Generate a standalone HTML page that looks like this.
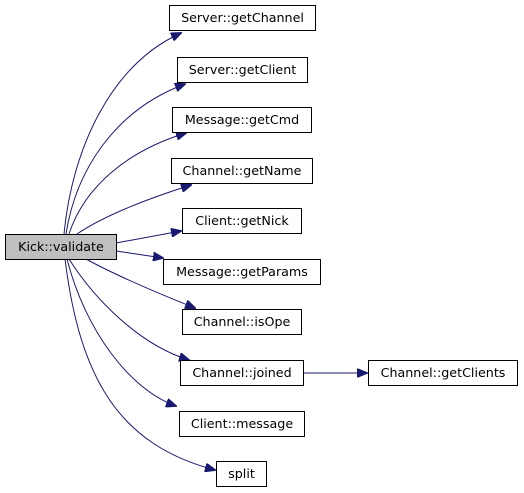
<!DOCTYPE html>
<html><head><style>
body{margin:0;background:#fff}
svg{display:block}
text{font-family:"DejaVu Sans","Liberation Sans",sans-serif;font-size:12.7px;fill:#000}
</style></head><body>
<svg width="524" height="493" viewBox="0 0 524 493" xmlns="http://www.w3.org/2000/svg">
<defs><marker id="a" markerWidth="11" markerHeight="9" refX="10" refY="4.5" orient="auto" markerUnits="userSpaceOnUse"><path d="M0,0 L11,4.5 L0,9 Z" fill="#191970" stroke="#191970"/></marker></defs>
<g fill="none" stroke="#191970" stroke-width="1" marker-end="url(#a)">
<path d="M64,234 C72,150 110,65 181,33"/>
<path d="M66,234 C76,170 115,110 185,84"/>
<path d="M69,234 C85,185 130,150 186,133"/>
<path d="M77,234 C105,215 150,198 191,185"/>
<path d="M116,243 L181,231"/>
<path d="M116,251 L163,258"/>
<path d="M86,259 C115,275 155,292 195,308"/>
<path d="M69,259 C95,300 140,345 189,360"/>
<path d="M67,259 C85,330 130,390 176,406"/>
<path d="M65,259 C80,380 120,445 215,470"/>
<path d="M303,373 L367,373"/>
</g>
<g stroke="#000" stroke-width="1" fill="#fff">
<rect x="5.5" y="234.5" width="111" height="25" fill="#bfbfbf"/>
<rect x="169.5" y="5.5" width="146" height="25"/>
<rect x="177.5" y="57.5" width="130" height="25"/>
<rect x="172.5" y="107.5" width="139" height="25"/>
<rect x="171.5" y="158.5" width="141" height="25"/>
<rect x="182.5" y="208.5" width="119" height="25"/>
<rect x="163.5" y="259.5" width="157" height="25"/>
<rect x="182.5" y="309.5" width="119" height="25"/>
<rect x="180.5" y="360.5" width="123" height="25"/>
<rect x="368.5" y="360.5" width="149" height="25"/>
<rect x="179.5" y="411.5" width="125" height="25"/>
<rect x="216.5" y="461.5" width="50" height="25"/>
</g>
<g text-anchor="middle">
<text x="61" y="251">Kick::validate</text>
<text x="242.5" y="22">Server::getChannel</text>
<text x="242.5" y="74">Server::getClient</text>
<text x="242" y="124">Message::getCmd</text>
<text x="242" y="175">Channel::getName</text>
<text x="242" y="225">Client::getNick</text>
<text x="242" y="276">Message::getParams</text>
<text x="242" y="326">Channel::isOpe</text>
<text x="242" y="377">Channel::joined</text>
<text x="443" y="377">Channel::getClients</text>
<text x="242" y="428">Client::message</text>
<text x="241.5" y="478">split</text>
</g>
</svg>
</body></html>
